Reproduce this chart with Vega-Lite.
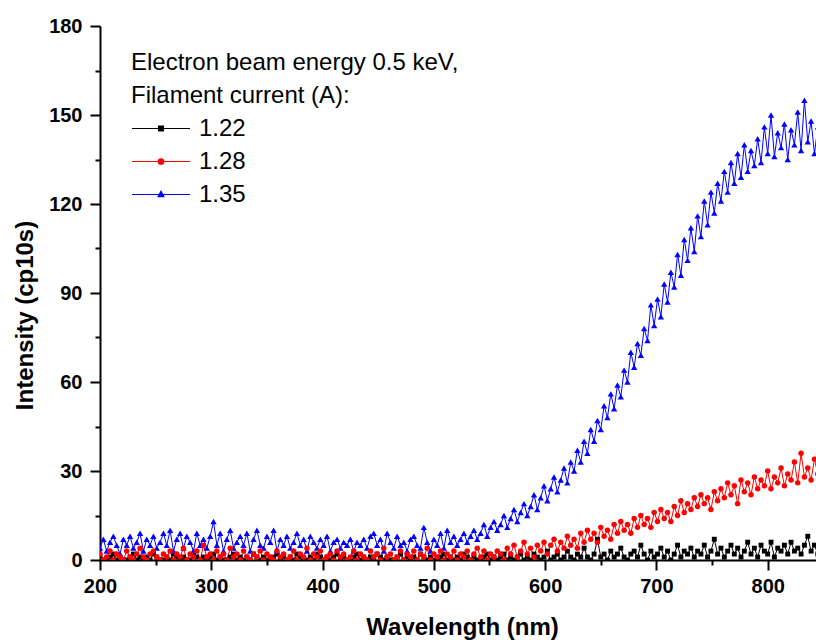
{
"$schema": "https://vega.github.io/schema/vega-lite/v6.json",
"width": 716, "height": 534,
"autosize": {"type": "none"},
"padding": {"left": 100, "top": 26, "right": 0, "bottom": 80},
"background": "white",
"config": {"view": {"stroke": null}, "font": "Liberation Sans"},
"data": {"values": [
{"w":200,"s1":1,"s2":4,"s3":2},{"w":203,"s1":0,"s2":7,"s3":0},{"w":206,"s1":0,"s2":3,"s3":1},{"w":209,"s1":1,"s2":6,"s3":3},{"w":212,"s1":2,"s2":8,"s3":0},{"w":215,"s1":0,"s2":5,"s3":2},{"w":218,"s1":1,"s2":2,"s3":1},{"w":221,"s1":0,"s2":7,"s3":0},{"w":224,"s1":0,"s2":5,"s3":3},{"w":227,"s1":1,"s2":8,"s3":1},
{"w":230,"s1":2,"s2":4,"s3":0},{"w":233,"s1":0,"s2":6,"s3":2},{"w":236,"s1":1,"s2":9,"s3":4},{"w":239,"s1":0,"s2":3,"s3":1},{"w":242,"s1":1,"s2":7,"s3":0},{"w":245,"s1":0,"s2":5,"s3":2},{"w":248,"s1":2,"s2":8,"s3":3},{"w":251,"s1":1,"s2":4,"s3":1},{"w":254,"s1":0,"s2":6,"s3":0},{"w":257,"s1":0,"s2":9,"s3":2},
{"w":260,"s1":1,"s2":5,"s3":1},{"w":263,"s1":0,"s2":10,"s3":3},{"w":266,"s1":2,"s2":3,"s3":0},{"w":269,"s1":1,"s2":7,"s3":2},{"w":272,"s1":0,"s2":9,"s3":1},{"w":275,"s1":1,"s2":4,"s3":4},{"w":278,"s1":0,"s2":8,"s3":0},{"w":281,"s1":0,"s2":6,"s3":2},{"w":284,"s1":2,"s2":3,"s3":1},{"w":287,"s1":1,"s2":9,"s3":3},
{"w":290,"s1":0,"s2":5,"s3":0},{"w":293,"s1":1,"s2":7,"s3":5},{"w":296,"s1":0,"s2":4,"s3":1},{"w":299,"s1":1,"s2":8,"s3":2},{"w":302,"s1":2,"s2":13,"s3":0},{"w":305,"s1":0,"s2":5,"s3":3},{"w":308,"s1":1,"s2":9,"s3":1},{"w":311,"s1":0,"s2":3,"s3":2},{"w":314,"s1":0,"s2":7,"s3":0},{"w":317,"s1":1,"s2":10,"s3":4},
{"w":320,"s1":2,"s2":4,"s3":1},{"w":323,"s1":0,"s2":6,"s3":2},{"w":326,"s1":1,"s2":8,"s3":0},{"w":329,"s1":0,"s2":5,"s3":3},{"w":332,"s1":1,"s2":9,"s3":1},{"w":335,"s1":0,"s2":3,"s3":0},{"w":338,"s1":2,"s2":7,"s3":2},{"w":341,"s1":1,"s2":10,"s3":1},{"w":344,"s1":0,"s2":5,"s3":3},{"w":347,"s1":1,"s2":4,"s3":0},
{"w":350,"s1":0,"s2":8,"s3":2},{"w":353,"s1":0,"s2":6,"s3":1},{"w":356,"s1":1,"s2":10,"s3":0},{"w":359,"s1":2,"s2":3,"s3":3},{"w":362,"s1":0,"s2":7,"s3":1},{"w":365,"s1":1,"s2":5,"s3":2},{"w":368,"s1":0,"s2":8,"s3":0},{"w":371,"s1":1,"s2":4,"s3":1},{"w":374,"s1":0,"s2":6,"s3":3},{"w":377,"s1":2,"s2":9,"s3":0},
{"w":380,"s1":1,"s2":5,"s3":2},{"w":383,"s1":0,"s2":7,"s3":1},{"w":386,"s1":0,"s2":3,"s3":4},{"w":389,"s1":1,"s2":8,"s3":0},{"w":392,"s1":0,"s2":6,"s3":2},{"w":395,"s1":2,"s2":4,"s3":1},{"w":398,"s1":1,"s2":7,"s3":3},{"w":401,"s1":0,"s2":5,"s3":0},{"w":404,"s1":1,"s2":8,"s3":1},{"w":407,"s1":0,"s2":3,"s3":2},
{"w":410,"s1":1,"s2":6,"s3":0},{"w":413,"s1":2,"s2":7,"s3":3},{"w":416,"s1":0,"s2":4,"s3":1},{"w":419,"s1":1,"s2":6,"s3":2},{"w":422,"s1":0,"s2":5,"s3":0},{"w":425,"s1":0,"s2":7,"s3":1},{"w":428,"s1":1,"s2":3,"s3":3},{"w":431,"s1":2,"s2":6,"s3":0},{"w":434,"s1":0,"s2":5,"s3":2},{"w":437,"s1":1,"s2":7,"s3":1},
{"w":440,"s1":0,"s2":4,"s3":0},{"w":443,"s1":1,"s2":8,"s3":3},{"w":446,"s1":0,"s2":9,"s3":1},{"w":449,"s1":2,"s2":5,"s3":2},{"w":452,"s1":1,"s2":7,"s3":0},{"w":455,"s1":0,"s2":3,"s3":4},{"w":458,"s1":1,"s2":9,"s3":1},{"w":461,"s1":0,"s2":6,"s3":2},{"w":464,"s1":0,"s2":4,"s3":0},{"w":467,"s1":1,"s2":8,"s3":1},
{"w":470,"s1":2,"s2":5,"s3":3},{"w":473,"s1":0,"s2":6,"s3":0},{"w":476,"s1":1,"s2":3,"s3":2},{"w":479,"s1":0,"s2":7,"s3":1},{"w":482,"s1":1,"s2":8,"s3":3},{"w":485,"s1":0,"s2":5,"s3":0},{"w":488,"s1":2,"s2":4,"s3":2},{"w":491,"s1":1,"s2":11,"s3":1},{"w":494,"s1":0,"s2":6,"s3":4},{"w":497,"s1":1,"s2":3,"s3":0},
{"w":500,"s1":0,"s2":7,"s3":2},{"w":503,"s1":0,"s2":5,"s3":1},{"w":506,"s1":1,"s2":9,"s3":3},{"w":509,"s1":2,"s2":4,"s3":0},{"w":512,"s1":0,"s2":10,"s3":2},{"w":515,"s1":1,"s2":6,"s3":1},{"w":518,"s1":0,"s2":8,"s3":3},{"w":521,"s1":1,"s2":5,"s3":0},{"w":524,"s1":0,"s2":7,"s3":2},{"w":527,"s1":2,"s2":9,"s3":1},
{"w":530,"s1":1,"s2":6,"s3":3},{"w":533,"s1":0,"s2":8,"s3":0},{"w":536,"s1":1,"s2":10,"s3":2},{"w":539,"s1":0,"s2":7,"s3":4},{"w":542,"s1":0,"s2":9,"s3":1},{"w":545,"s1":1,"s2":12,"s3":3},{"w":548,"s1":2,"s2":8,"s3":0},{"w":551,"s1":0,"s2":11,"s3":2},{"w":554,"s1":1,"s2":13,"s3":1},{"w":557,"s1":0,"s2":10,"s3":3},
{"w":560,"s1":1,"s2":12,"s3":2},{"w":563,"s1":2,"s2":15,"s3":0},{"w":566,"s1":0,"s2":11,"s3":4},{"w":569,"s1":1,"s2":14,"s3":2},{"w":572,"s1":0,"s2":17,"s3":5},{"w":575,"s1":1,"s2":13,"s3":1},{"w":578,"s1":2,"s2":16,"s3":3},{"w":581,"s1":0,"s2":19,"s3":6},{"w":584,"s1":1,"s2":15,"s3":2},{"w":587,"s1":0,"s2":18,"s3":4},
{"w":590,"s1":2,"s2":22,"s3":1},{"w":593,"s1":1,"s2":17,"s3":5},{"w":596,"s1":0,"s2":21,"s3":3},{"w":599,"s1":1,"s2":25,"s3":6},{"w":602,"s1":3,"s2":20,"s3":2},{"w":605,"s1":0,"s2":24,"s3":5},{"w":608,"s1":1,"s2":28,"s3":7},{"w":611,"s1":2,"s2":23,"s3":3},{"w":614,"s1":0,"s2":27,"s3":6},{"w":617,"s1":1,"s2":31,"s3":4},
{"w":620,"s1":3,"s2":26,"s3":8},{"w":623,"s1":1,"s2":33,"s3":5},{"w":626,"s1":0,"s2":30,"s3":7},{"w":629,"s1":2,"s2":37,"s3":4},{"w":632,"s1":1,"s2":33,"s3":9},{"w":635,"s1":4,"s2":40,"s3":6},{"w":638,"s1":1,"s2":36,"s3":10},{"w":641,"s1":0,"s2":44,"s3":7},{"w":644,"s1":2,"s2":40,"s3":9},{"w":647,"s1":7,"s2":47,"s3":6},
{"w":650,"s1":1,"s2":44,"s3":11},{"w":653,"s1":2,"s2":52,"s3":8},{"w":656,"s1":0,"s2":48,"s3":10},{"w":659,"s1":3,"s2":56,"s3":7},{"w":662,"s1":1,"s2":51,"s3":12},{"w":665,"s1":2,"s2":59,"s3":9},{"w":668,"s1":4,"s2":55,"s3":13},{"w":671,"s1":1,"s2":64,"s3":10},{"w":674,"s1":0,"s2":60,"s3":12},{"w":677,"s1":2,"s2":70,"s3":9},
{"w":680,"s1":3,"s2":65,"s3":14},{"w":683,"s1":1,"s2":73,"s3":11},{"w":686,"s1":5,"s2":69,"s3":15},{"w":689,"s1":2,"s2":78,"s3":12},{"w":692,"s1":0,"s2":74,"s3":14},{"w":695,"s1":3,"s2":86,"s3":11},{"w":698,"s1":1,"s2":79,"s3":16},{"w":701,"s1":2,"s2":88,"s3":13},{"w":704,"s1":4,"s2":82,"s3":17},{"w":707,"s1":1,"s2":93,"s3":14},
{"w":710,"s1":3,"s2":87,"s3":16},{"w":713,"s1":0,"s2":97,"s3":13},{"w":716,"s1":2,"s2":92,"s3":18},{"w":719,"s1":5,"s2":103,"s3":15},{"w":722,"s1":1,"s2":96,"s3":20},{"w":725,"s1":3,"s2":108,"s3":16},{"w":728,"s1":2,"s2":101,"s3":19},{"w":731,"s1":4,"s2":112,"s3":17},{"w":734,"s1":1,"s2":104,"s3":21},{"w":737,"s1":3,"s2":116,"s3":18},
{"w":740,"s1":2,"s2":109,"s3":22},{"w":743,"s1":5,"s2":121,"s3":19},{"w":746,"s1":1,"s2":113,"s3":21},{"w":749,"s1":3,"s2":124,"s3":17},{"w":752,"s1":7,"s2":117,"s3":23},{"w":755,"s1":2,"s2":127,"s3":20},{"w":758,"s1":4,"s2":121,"s3":24},{"w":761,"s1":1,"s2":131,"s3":21},{"w":764,"s1":3,"s2":124,"s3":26},{"w":767,"s1":5,"s2":134,"s3":22},
{"w":770,"s1":2,"s2":127,"s3":25},{"w":773,"s1":4,"s2":137,"s3":19},{"w":776,"s1":1,"s2":129,"s3":27},{"w":779,"s1":3,"s2":140,"s3":23},{"w":782,"s1":6,"s2":131,"s3":26},{"w":785,"s1":2,"s2":138,"s3":22},{"w":788,"s1":4,"s2":133,"s3":28},{"w":791,"s1":1,"s2":142,"s3":24},{"w":794,"s1":5,"s2":134,"s3":27},{"w":797,"s1":3,"s2":146,"s3":25},
{"w":800,"s1":2,"s2":137,"s3":30},{"w":803,"s1":6,"s2":150,"s3":24},{"w":806,"s1":1,"s2":136,"s3":28},{"w":809,"s1":4,"s2":144,"s3":26},{"w":812,"s1":3,"s2":139,"s3":31},{"w":815,"s1":5,"s2":147,"s3":25},{"w":818,"s1":2,"s2":135,"s3":29},{"w":821,"s1":6,"s2":145,"s3":27},{"w":824,"s1":3,"s2":140,"s3":33},{"w":827,"s1":4,"s2":151,"s3":26},
{"w":830,"s1":2,"s2":138,"s3":36},{"w":833,"s1":5,"s2":155,"s3":28},{"w":836,"s1":8,"s2":141,"s3":31},{"w":839,"s1":3,"s2":148,"s3":27},{"w":842,"s1":5,"s2":137,"s3":34},{"w":845,"s1":2,"s2":146,"s3":29}
]},
"transform": [{"fold": ["s1","s2","s3"], "as": ["key","v"]}],
"encoding": {
  "x": {"field": "w", "type": "quantitative", "scale": {"domain": [200, 843.4], "nice": false, "zero": false},
   "axis": {"values": [200,250,300,350,400,450,500,550,600,650,700,750,800],
    "labelExpr": "datum.value % 100 == 0 ? datum.label : ''",
    "tickSize": {"condition": {"test": "datum.value % 100 == 0", "value": 10}, "value": 5},
    "tickWidth": 2, "tickColor": "black", "domainColor": "black", "domainWidth": 2,
    "labelFont": "Liberation Sans", "labelFontSize": 20, "labelFontWeight": "bold", "labelColor": "black", "labelPadding": 6,
    "labelFlush": false, "labelOverlap": false, "grid": false,
    "title": "Wavelength (nm)", "titleFont": "Liberation Sans", "titleFontSize": 24, "titleFontWeight": "bold", "titleColor": "black",
    "titleX": 362, "titleY": 74, "titleBaseline": "alphabetic", "titleAlign": "center"}},
  "y": {"field": "v", "type": "quantitative", "scale": {"domain": [0, 180], "nice": false},
   "axis": {"values": [0,15,30,45,60,75,90,105,120,135,150,165,180],
    "labelExpr": "datum.value % 30 == 0 ? datum.label : ''",
    "tickSize": {"condition": {"test": "datum.value % 30 == 0", "value": 10}, "value": 5},
    "tickWidth": 2, "tickColor": "black", "domainColor": "black", "domainWidth": 2,
    "labelFont": "Liberation Sans", "labelFontSize": 20, "labelFontWeight": "bold", "labelColor": "black", "labelPadding": 8,
    "labelFlush": false, "labelOverlap": false, "grid": false,
    "title": "Intensity (cp10s)", "titleFont": "Liberation Sans", "titleFontSize": 24, "titleFontWeight": "bold", "titleColor": "black",
    "titleX": -68, "titleY": 289, "titleBaseline": "alphabetic", "titleAlign": "center", "titleAngle": -90}},
  "color": {"field": "key", "type": "nominal", "scale": {"domain": ["s1","s3","s2"], "range": ["#000000","#ff0000","#0000ff"]},
   "legend": {"orient": "none", "legendX": 31, "legendY": 25, "padding": 0,
    "title": ["Electron beam energy 0.5 keV,", "Filament current (A):"],
    "titleFont": "Liberation Sans", "titleFontSize": 24, "titleFontWeight": "normal", "titleColor": "black", "titleLineHeight": 33, "titlePadding": 4, "titleLimit": 1000,
    "labelFont": "Liberation Sans", "labelFontSize": 24, "labelColor": "black", "labelOffset": 8, "labelLimit": 500,
    "labelExpr": "datum.label == 's1' ? '1.22' : datum.label == 's2' ? '1.35' : '1.28'",
    "symbolSize": 3364, "symbolStrokeWidth": 1.2, "rowPadding": 0, "clipHeight": 33,
    "encode": {"symbols": {"update": {
      "shape": {"signal": "datum.value == 's1' ? 'M-1,0H1M-0.085,-0.085H0.085V0.085H-0.085Z' : datum.value == 's3' ? 'M-1,0H1M0.095,0A0.095,0.095 0 1,1 -0.095,0A0.095,0.095 0 1,1 0.095,0Z' : 'M-1,0H1M0,-0.11L0.1,0.07H-0.1Z'"},
      "stroke": {"signal": "datum.value == 's1' ? '#000000' : datum.value == 's2' ? '#0000ff' : '#ff0000'"},
      "fill": {"signal": "datum.value == 's1' ? '#000000' : datum.value == 's2' ? '#0000ff' : '#ff0000'"},
      "strokeWidth": {"value": 1.2},
      "size": {"value": 3364},
      "opacity": {"value": 1}
    }}}}}
},
"layer": [
{
 "mark": {"type": "line", "strokeWidth": 1, "clip": true}
},
{
 "transform": [{"filter": "datum.key == 's1'"}],
 "mark": {"type": "point", "shape": "square", "filled": true, "opacity": 1, "size": 24, "clip": true}
},
{
 "transform": [{"filter": "datum.key == 's2'"}],
 "mark": {"type": "point", "shape": "triangle-up", "filled": true, "opacity": 1, "size": 40, "clip": true}
},
{
 "transform": [{"filter": "datum.key == 's3'"}],
 "mark": {"type": "point", "shape": "circle", "filled": true, "opacity": 1, "size": 30, "clip": true}
},
{
 "data": {"values": [{}]},
 "mark": {"type": "rule", "color": "black", "strokeWidth": 2.5},
 "encoding": {"x": null, "color": null, "y": {"datum": 180}}
}
]
}
